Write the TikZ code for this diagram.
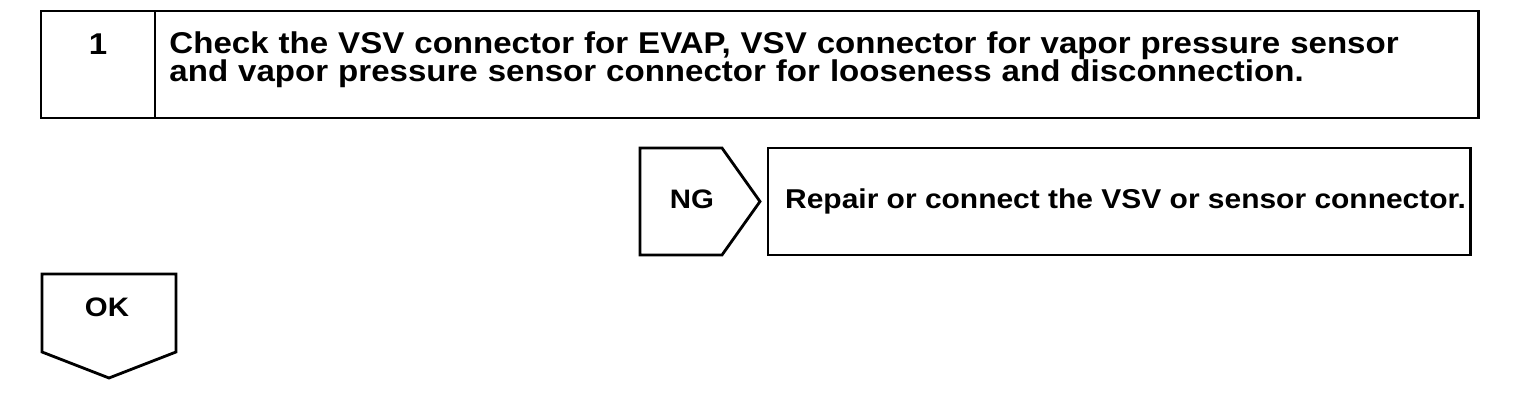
\documentclass[tikz,border=0pt]{standalone}
\usepackage{fontspec}
\setmainfont{Liberation Sans}[FakeStretch=1.1]
\usepackage{tikz}
\usetikzlibrary{positioning, calc}
\newcommand\tightlines{\setlength{\lineskiplimit}{-20pt}\setlength{\lineskip}{0pt}}
\tikzset{
  stepbox/.style={draw=black, line width=1.6pt, minimum height=2.14cm,
    inner sep=0pt, outer sep=0pt},
  tagbox/.style={draw=none, inner sep=0pt, outer sep=0pt},
  stepline/.style={draw=black, line width=1.6pt, line join=miter},
  steptext/.style={font=\fontsize{17.1}{16.2}\selectfont\bfseries\tightlines},
  notetext/.style={font=\fontsize{15.5}{14.8}\selectfont\bfseries},
  tagtext/.style={font=\fontsize{15.2}{14.8}\selectfont\bfseries}
}

\begin{document}
\begin{tikzpicture}[x=0.02cm, y=-0.02cm]

  \useasboundingbox (0,0) rectangle (1536,406);

  \node[stepbox, minimum width=2.28cm] (numcell) at (98,64.5) {};
  \node[stepbox, minimum width=26.48cm, right=0pt of numcell] (checkcell) {};

  \node[steptext] (numtext) at (98,44) {1};
  \node[steptext, text width=25.9cm, align=left] (checktext)
    at ($(checkcell.center)+(0,-5)$)
    {Check the VSV connector for EVAP, VSV connector for vapor pressure sensor\\
     and vapor pressure sensor connector for looseness and disconnection.};

  \node[tagbox, minimum width=1.64cm, minimum height=2.14cm] (ngtag) at (681,201.5) {};
  \draw[stepline] (ngtag.north west) -- (ngtag.north east) -- ($(ngtag.east)+(38,0)$)
    -- (ngtag.south east) -- (ngtag.south west) -- cycle;
  \node[tagtext] (nglabel) at ($(ngtag.center)+(11,-2)$) {NG};

  \node[stepbox, minimum width=14.06cm, right=0.92cm of ngtag] (repairbox) {};
  \node[notetext, anchor=west] (repairtext) at ($(repairbox.west)+(11,0)$)
    {Repair or connect the VSV or sensor connector.};

  \node[tagbox, minimum width=2.68cm, minimum height=1.56cm] (oktag) at (109,313) {};
  \draw[stepline] (oktag.south west) -- (oktag.north west) -- (oktag.north east)
    -- (oktag.south east) -- ($(oktag.south)+(0,26)$) -- cycle;
  \node[tagtext] (oklabel) at ($(oktag.center)+(-2,-6)$) {OK};

\end{tikzpicture}
\end{document}
